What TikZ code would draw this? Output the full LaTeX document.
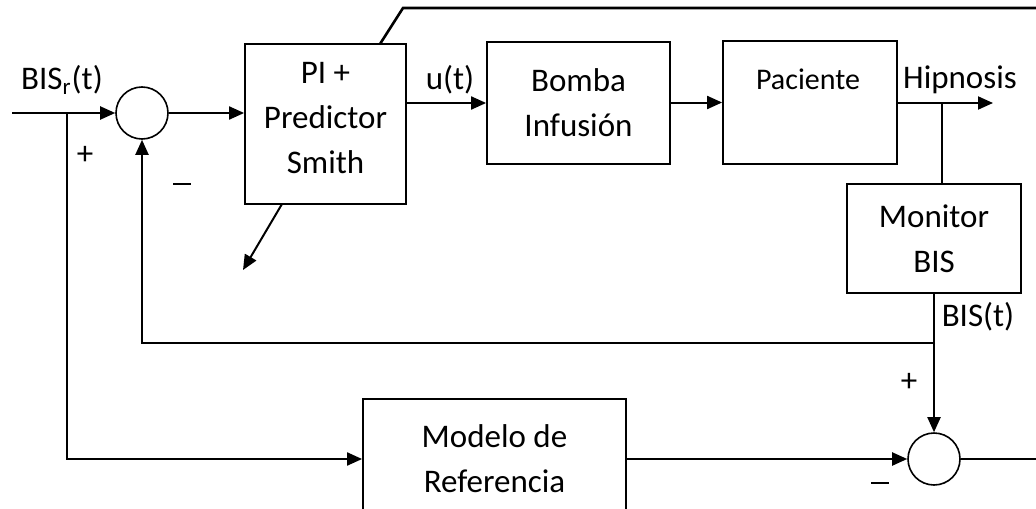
\documentclass[tikz,border=0pt]{standalone}
\usepackage{fontspec}
\setmainfont{Carlito}
\usetikzlibrary{arrows.meta,calc}
\tikzset{
  blk/.style={draw, line width=0.9pt, rectangle, align=center, inner sep=0pt},
  sumc/.style={draw, line width=0.8pt, circle, minimum size=26pt, inner sep=0pt},
  conn/.style={line width=1pt},
  arr/.style={line width=1pt, -{Triangle[length=7.5pt,width=6.5pt]}},
  lbl/.style={inner sep=0pt, align=center},
  mainfont/.style={font=\fontsize{16.5}{22.5}\selectfont},
}
\newcommand{\mydash}{\rule[0.25em]{9pt}{0.9pt}}
\begin{document}
\begin{tikzpicture}[x=0.5pt, y=-0.5pt, mainfont]
\clip (0,0) rectangle (1036,508);
\useasboundingbox (0,0) rectangle (1036,508);
% blocks
\node[sumc] (s1) at (142,113) {};
\node[blk, minimum width=80.5pt, minimum height=80pt] (pi) at (325.5,124) {};
\node[lbl] (pilbl) at (325.5,118) {PI +\\Predictor\\Smith};
\node[blk, minimum width=91.5pt, minimum height=61pt] (bomba) at (578.5,103) {Bomba\\Infusión};
\node[blk, minimum width=87pt, minimum height=61.5pt] (pac) at (810,102.5) {};
\node[lbl, font=\fontsize{15}{18}\selectfont] (paclbl) at (808,79) {Paciente};
\node[blk, minimum width=87pt, minimum height=54.5pt] (mon) at (934,238.5) {Monitor\\BIS};
\node[blk, minimum width=131.5pt, minimum height=60pt] (modelo) at (494.5,459) {Modelo de\\Referencia};
\node[sumc] (s2) at (934,459) {};
% coordinates
\coordinate (in) at (12,113);
\coordinate (b1) at (67,113);
\coordinate (out1) at (993,103);
\coordinate (hj) at (942,103);
\coordinate (fb) at (935,343);
\coordinate (out2) at (1036,459);
\coordinate (t0) at (380,44);
\coordinate (t1) at (403,8);
\coordinate (t2) at (1036,8);
\coordinate (d0) at (282,204);
\coordinate (d1) at (243,270);
% connectors
\draw[arr] (in) -- (s1.west);
\draw[arr] (b1) |- (modelo.west);
\draw[arr] (s1.east) -- (s1.east -| pi.west);
\draw[arr] (pi.east |- bomba.west) -- (bomba.west);
\draw[arr] (bomba.east |- pac.west) -- (pac.west);
\draw[arr] (pac.east |- out1) -- (out1);
\draw[conn] (hj) -- (hj |- mon.north);
\draw[arr] (mon.south) -- (s2.north);
\draw[arr] (fb) -| (s1.south);
\draw[arr] (modelo.east) -- (s2.west);
\draw[conn] (s2.east) -- (out2);
\draw[line width=1.3pt] (t0) -- (t1) -- (t2);
\draw[arr] (d0) -- (d1);
% labels
\node[lbl] (lbisr) at (62,80) {BIS\textsubscript{r}(t)};
\node[lbl] (lp1) at (85,155) {+};
\node[lbl] (lm1) at (182,188) {\mydash};
\node[lbl] (lu) at (450,80) {u(t)};
\node[lbl] (lhip) at (960,80) {Hipnosis};
\node[lbl] (lbis) at (978,317) {BIS(t)};
\node[lbl] (lp2) at (909,382) {+};
\node[lbl] (lm2) at (880,487) {\mydash};
\end{tikzpicture}
\end{document}
